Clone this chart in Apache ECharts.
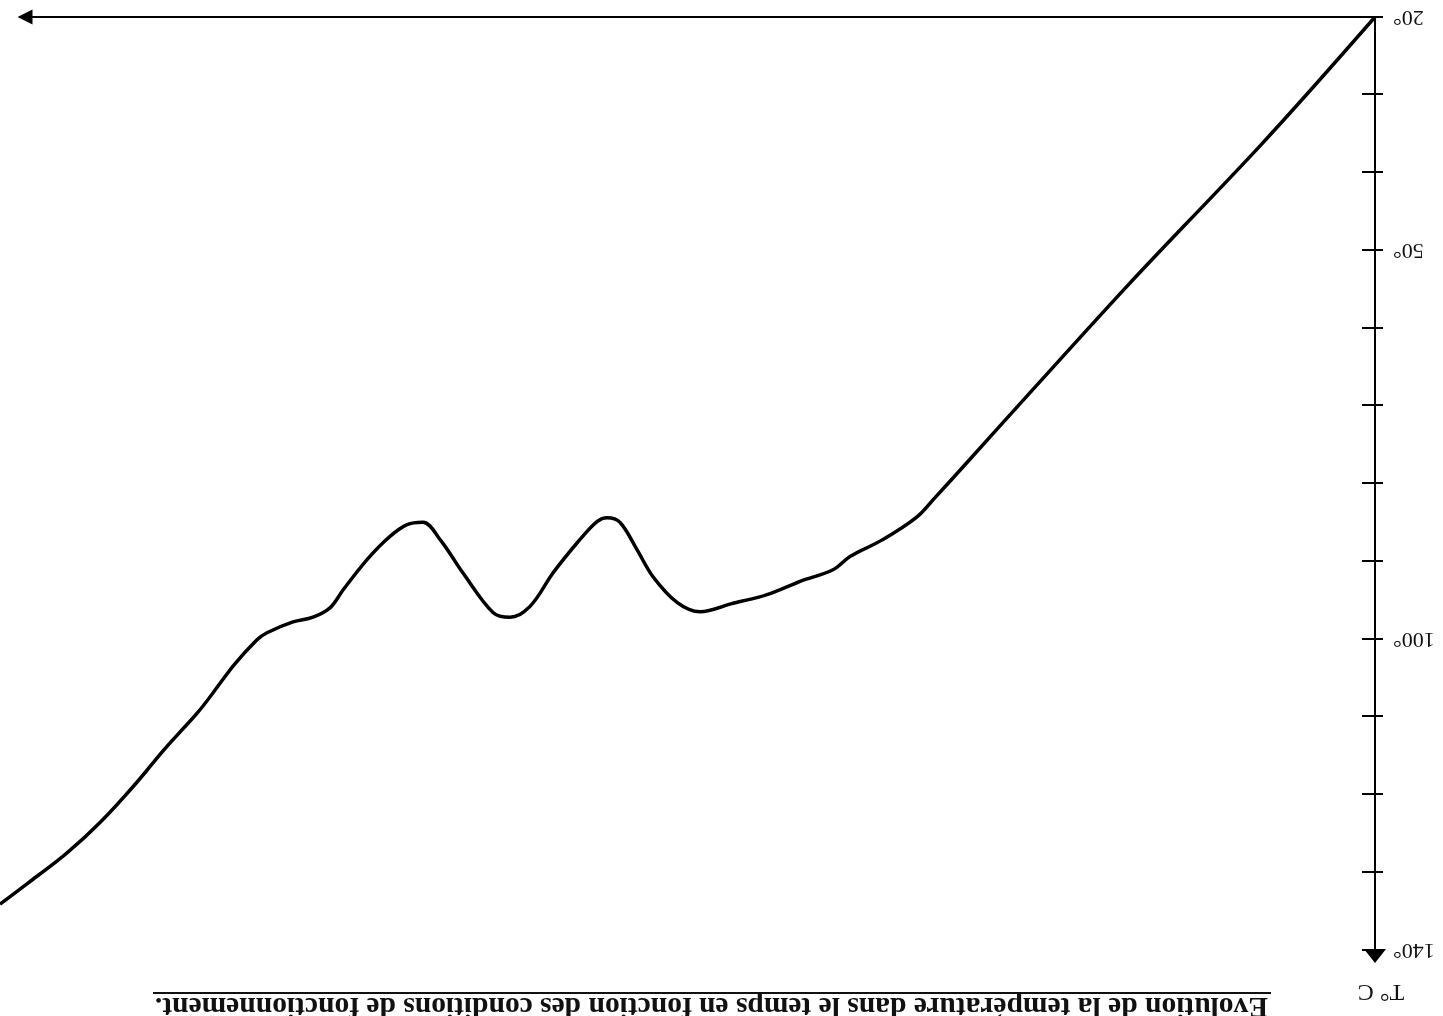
<!DOCTYPE html>
<html>
<head>
<meta charset="utf-8">
<script src="https://cdn.jsdelivr.net/npm/echarts@6/dist/echarts.min.js"></script>
<style>
  html, body { margin: 0; padding: 0; background: #fff; }
  /* the scanned page is upside down, so the whole chart is turned */
  #chart { width: 1443px; height: 1016px; transform: rotate(180deg); }
</style>
</head>
<body>
<div id="chart"></div>
<script>
  // time (arbitrary units along the axis) and temperature in °C
  var timeValues = [0, 108, 242, 342, 408, 442, 458, 492, 525, 542, 575, 608, 642, 675, 698,
    722, 738, 755, 768, 778, 795, 822, 845, 865, 882, 912, 935, 952, 968, 985,
    1008, 1032, 1045, 1062, 1082, 1108, 1118, 1142, 1175, 1208, 1242, 1275, 1308, 1342, 1375]
  var tempValues = [20.0, 35.6, 53.8, 67.9, 77.3, 82.1, 84.3, 87.2, 89.4, 91.1, 92.6, 94.3, 95.4, 96.5, 95.3,
    92.0, 88.5, 85.0, 84.4, 84.9, 87.2, 91.5, 95.8, 97.2, 96.6, 91.5, 87.2, 85.0, 85.3, 86.8,
    89.8, 93.7, 96.0, 97.2, 97.8, 99.2, 100.1, 103.5, 109.1, 113.8, 119.0, 123.6, 127.5, 130.9, 134.1]
  var labelledTicks = [20, 50, 100, 140]
  var titleText = 'Evolution de la température dans le temps en fonction des conditions de fonctionnement.'

  var titleFont = 'bold 29px "Liberation Serif", "DejaVu Serif", serif'
  var titleWidth = 1113

  // squeeze the title to the width it has on the scan
  var ctx = document.createElement('canvas').getContext('2d')
  ctx.font = titleFont
  var titleScale = titleWidth / ctx.measureText(titleText).width

  var chart = echarts.init(document.getElementById('chart'))

  var points = timeValues.map(function (t, i) {
    return [t, tempValues[i]]
  })

  var blackLine = { color: '#000', width: 2 }

  chart.setOption({
    animation: false,
    backgroundColor: '#fff',
    grid: [
      { left: 68, right: 0, top: 66, bottom: 17 },
      // second grid only carries the shorter time axis with its arrow
      { left: 68, right: 25, top: 66, bottom: 17 }
    ],
    xAxis: [{
      type: 'value',
      gridIndex: 0,
      min: 0,
      max: 1375,
      splitLine: { show: false },
      axisTick: { show: false },
      axisLabel: { show: false },
      axisLine: { show: false }
    }, {
      type: 'value',
      gridIndex: 1,
      min: 0,
      max: 1350,
      splitLine: { show: false },
      axisTick: { show: false },
      axisLabel: { show: false },
      axisLine: {
        onZero: false,
        lineStyle: blackLine,
        symbol: ['none', 'triangle'],
        symbolSize: [15, 15],
        symbolOffset: [0, 0]
      }
    }],
    yAxis: [{
      type: 'value',
      gridIndex: 0,
      min: 20,
      max: 140,
      interval: 10,
      name: 'T° C',
      nameLocation: 'end',
      nameGap: 29,
      nameTextStyle: {
        fontFamily: 'Liberation Serif',
        fontSize: 24,
        color: '#111',
        padding: [0, 12, 0, 0]
      },
      splitLine: { show: false },
      axisLine: {
        onZero: false,
        lineStyle: blackLine,
        symbol: ['none', 'triangle'],
        symbolSize: [22, 14],
        symbolOffset: [0, 6]
      },
      axisTick: {
        inside: false,
        length: 8,
        lineStyle: blackLine
      },
      axisLabel: {
        margin: 18,
        fontFamily: 'Liberation Serif',
        fontSize: 22,
        color: '#111',
        formatter: function (v) {
          return labelledTicks.indexOf(v) >= 0 ? v + '°' : ''
        }
      }
    }, {
      // same scale, only to get the tick marks crossing into the plot
      type: 'value',
      gridIndex: 0,
      min: 20,
      max: 140,
      interval: 10,
      position: 'left',
      splitLine: { show: false },
      axisLine: { show: false },
      axisLabel: { show: false },
      axisTick: {
        inside: true,
        length: 13,
        lineStyle: blackLine
      }
    }, {
      type: 'value',
      gridIndex: 1,
      min: 20,
      max: 140,
      show: false
    }],
    graphic: [{
      type: 'text',
      x: 175,
      y: 11,
      scaleX: titleScale,
      style: {
        text: titleText,
        font: titleFont,
        fill: '#111',
        align: 'left',
        verticalAlign: 'middle'
      }
    }, {
      type: 'line',
      shape: { x1: 172, y1: 23, x2: 1290, y2: 23 },
      style: { stroke: '#111', lineWidth: 2 }
    }],
    series: [{
      type: 'line',
      data: points,
      xAxisIndex: 0,
      yAxisIndex: 0,
      smooth: 0.35,
      showSymbol: false,
      lineStyle: { color: '#000', width: 3.5 }
    }]
  })
</script>
</body>
</html>
